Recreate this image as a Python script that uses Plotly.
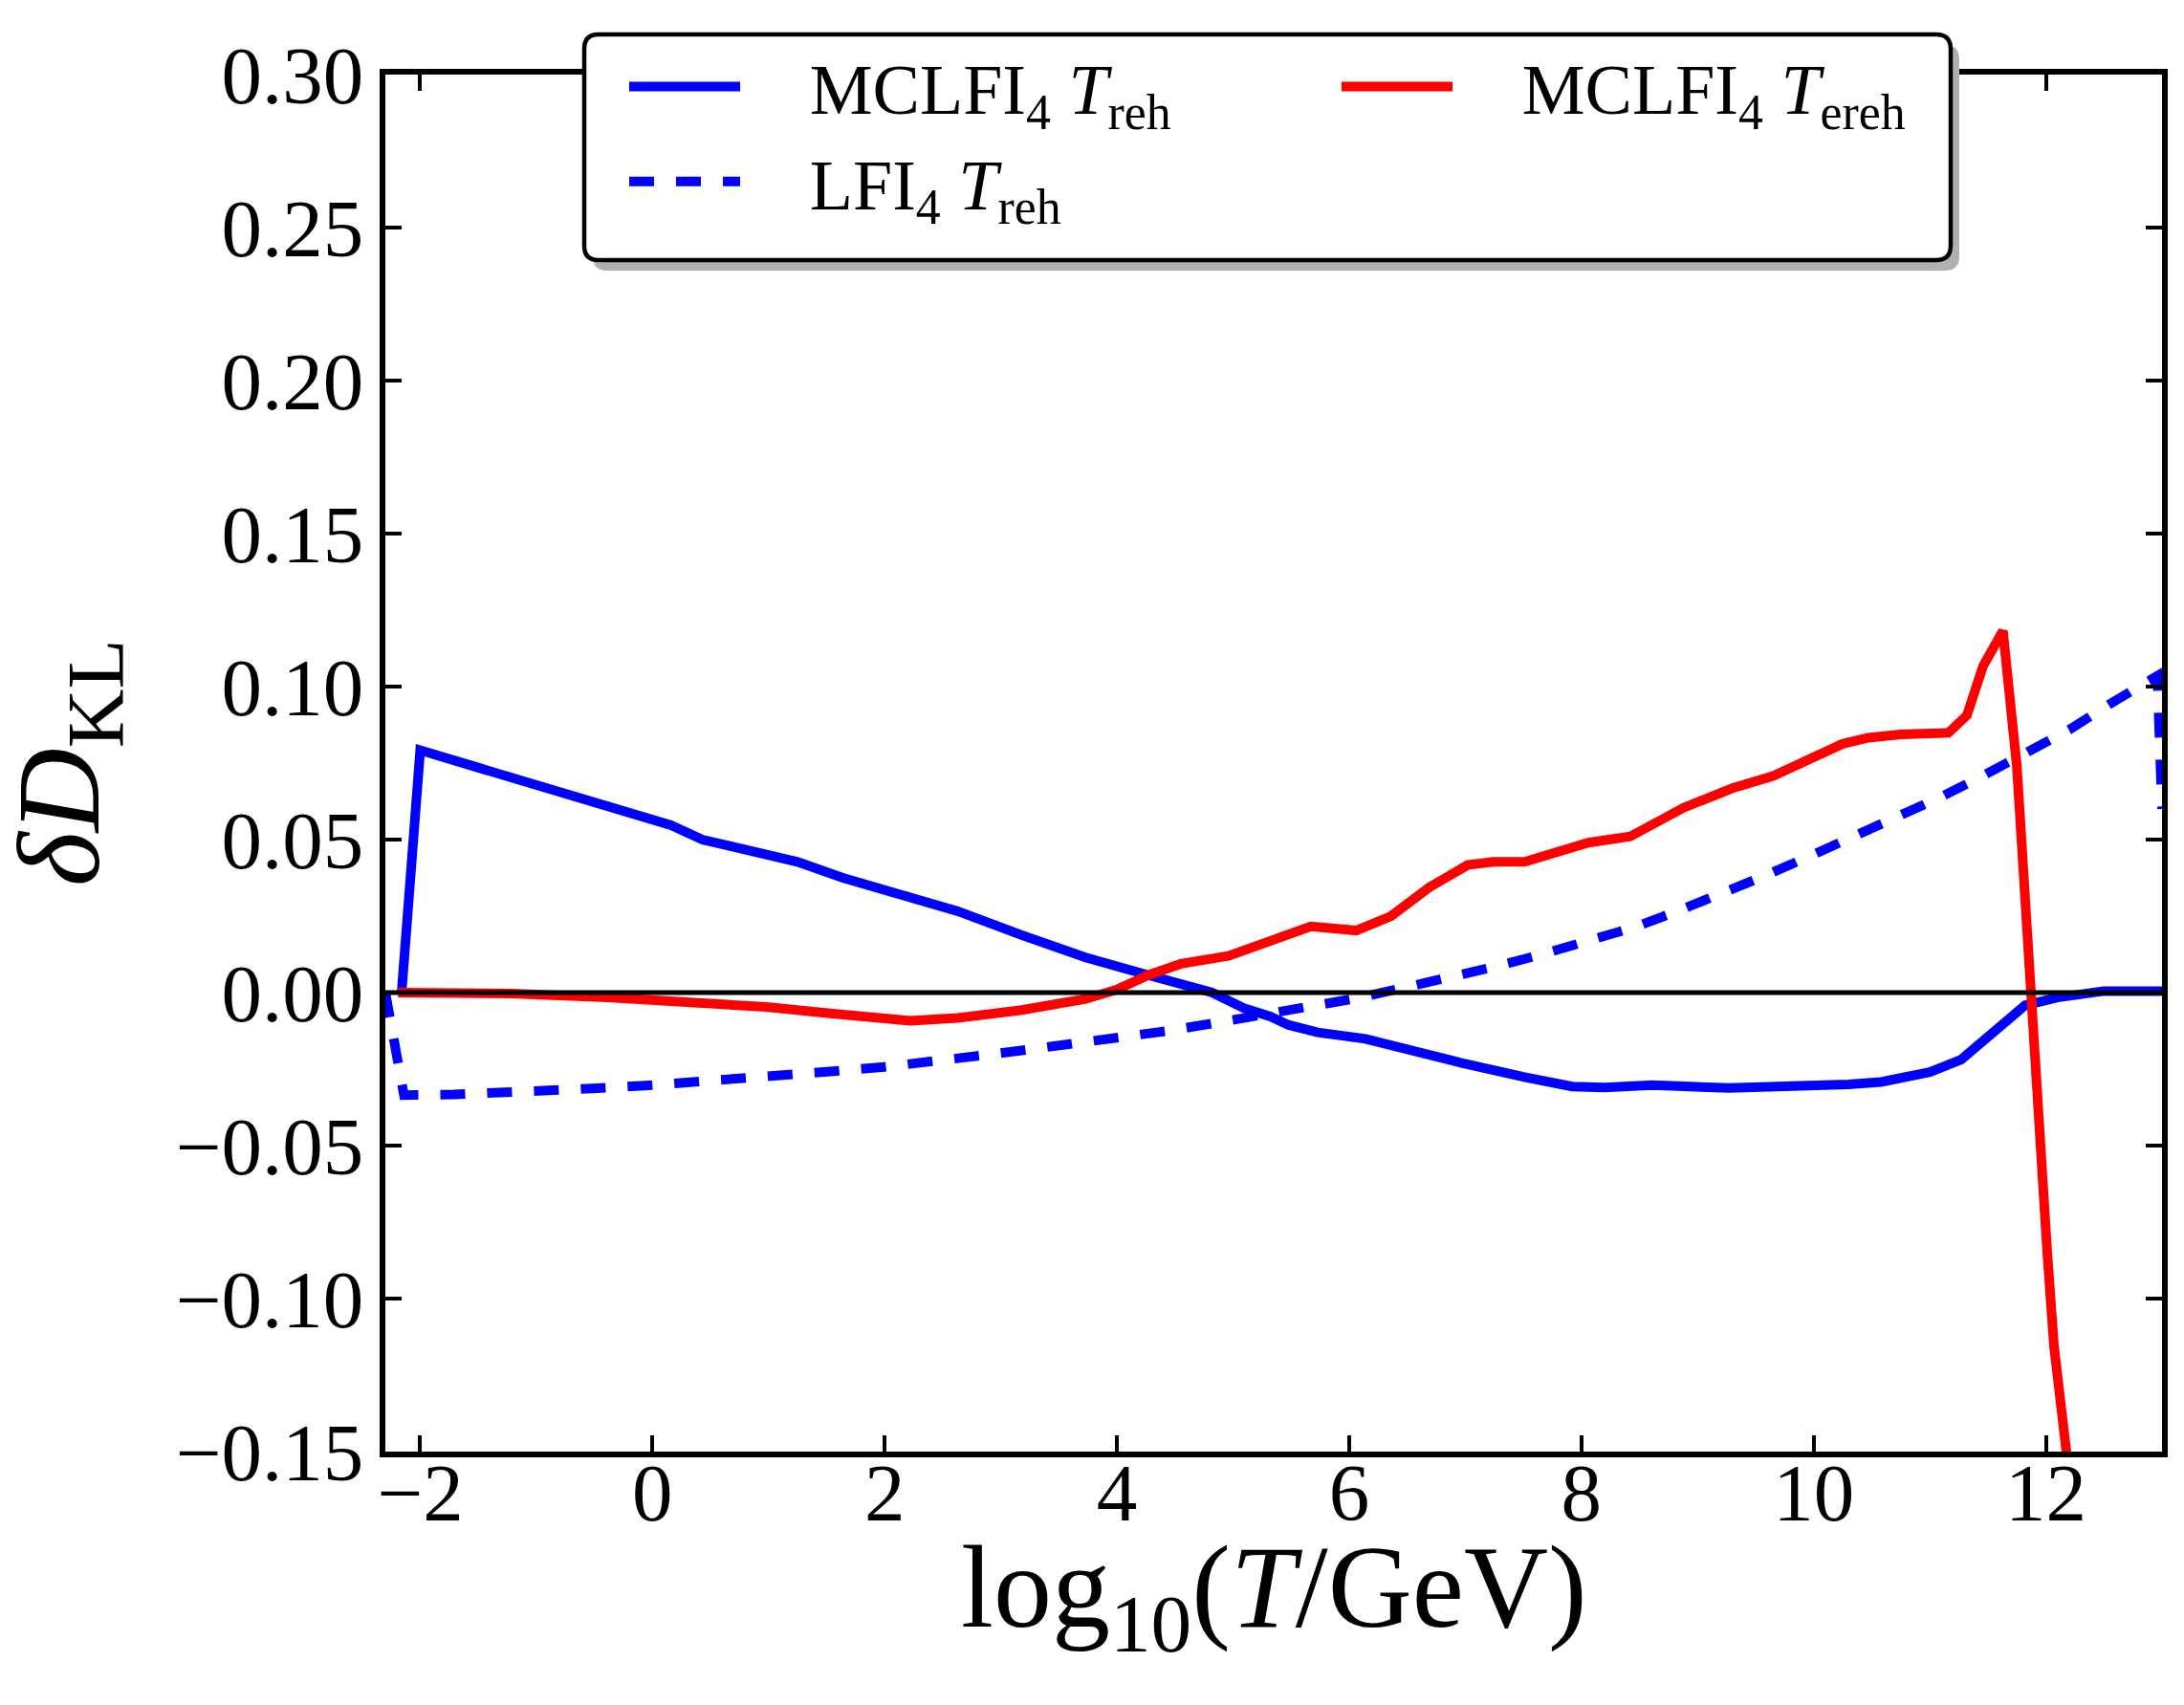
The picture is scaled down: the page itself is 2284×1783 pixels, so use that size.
import plotly.graph_objects as go

# ---------------- data ----------------
blue_x = [-2.16, -2.0, -1.49, -0.94, -0.39, 0.16, 0.43, 0.70, 1.25, 1.64, 2.08, 2.63, 3.18,
          3.73, 4.27, 4.82, 5.10, 5.32, 5.48, 5.73, 6.14, 6.55, 6.96, 7.51, 7.92, 8.20, 8.61,
          9.27, 9.8, 10.3, 10.58, 11.0, 11.27, 11.55, 11.82, 12.1, 12.5, 13.0]
blue_y = [0.0, 0.0792, 0.0734, 0.0672, 0.0604, 0.0547, 0.0500, 0.0474, 0.0427, 0.0375, 0.0328,
          0.0266, 0.0188, 0.0115, 0.0057, 0.0, -0.0052, -0.0078, -0.0106, -0.0130, -0.0151,
          -0.0193, -0.0229, -0.0276, -0.0307, -0.0310, -0.0302, -0.0312, -0.0308, -0.0300,
          -0.0292, -0.0260, -0.0219, -0.0125, -0.0042, -0.0016, 0.0005, 0.0005]

dash_x = [-2.3, -2.14, -1.71, -1.30, -0.886, -0.475, -0.063, 0.348, 0.76, 1.17, 1.556, 1.997,
          2.41, 2.82, 3.22, 3.63, 4.03, 4.44, 4.85, 5.26, 5.66, 6.06, 6.47, 6.87, 7.26, 7.66,
          8.06, 8.46, 8.84, 9.21, 9.60, 9.98, 10.35, 10.72, 11.10, 11.48, 11.85, 12.20, 12.55,
          12.92, 12.96, 13.0]
dash_y = [0.0, -0.0335, -0.0333, -0.0328, -0.0321, -0.03125, -0.0304, -0.0294, -0.0283, -0.0271,
          -0.0257, -0.0243, -0.0227, -0.0206, -0.0187, -0.0167, -0.0146, -0.0125, -0.0099,
          -0.0073, -0.0047, -0.0019, 0.0016, 0.0047, 0.0085, 0.0125, 0.0167, 0.0214, 0.0268,
          0.0323, 0.0385, 0.0448, 0.0510, 0.0573, 0.0640, 0.0713, 0.0786, 0.0859, 0.0943,
          0.1026, 0.1035, 0.0600]

red_x = [-2.19, -1.22, -0.39, 0.43, 0.98, 1.53, 2.22, 2.63, 3.18, 3.73, 4.0, 4.27, 4.55, 4.96,
         5.317, 5.67, 6.06, 6.36, 6.69, 7.02, 7.24, 7.51, 8.06, 8.42, 8.88, 9.30, 9.65, 9.93,
         10.25, 10.47, 10.75, 11.16, 11.32, 11.46, 11.63, 11.75, 11.87, 11.93, 12.01, 12.07,
         12.17, 12.30]
red_y = [0.0, -0.0003, -0.0016, -0.0030, -0.0047, -0.0068, -0.0092, -0.0083, -0.0057, -0.0021,
         0.0010, 0.0057, 0.0094, 0.0120, 0.0172, 0.0216, 0.0203, 0.0250, 0.0344, 0.0417, 0.0427,
         0.0427, 0.0490, 0.0510, 0.0604, 0.0668, 0.0708, 0.0755, 0.0813, 0.0833, 0.0844, 0.0849,
         0.0906, 0.1068, 0.1182, 0.0740, 0.0, -0.0427, -0.0840, -0.1156, -0.1480, -0.1900]

x_ticks = [-2, 0, 2, 4, 6, 8, 10, 12]
y_ticks = [-0.15, -0.10, -0.05, 0.00, 0.05, 0.10, 0.15, 0.20, 0.25, 0.30]

PAD = "\u2002\u2005\u2006"
names = [PAD + "MCLFI<sub>4</sub> <i>T</i><sub>reh</sub>",
         PAD + "MCLFI<sub>4</sub> <i>T</i><sub>ereh</sub>",
         PAD + "LFI<sub>4</sub> <i>T</i><sub>reh</sub>"]

FONT = "Liberation Serif"
W, H = 2284, 1783
L, R, T, B = 395, 31, 70, 273
PW, PH = W - L - R, H - T - B
LW = 10


def px2paper(px, py):
    return (px - L) / PW, (H - B - py) / PH


fig = go.Figure()
fig.add_trace(go.Scatter(x=blue_x, y=blue_y, mode="lines", name=names[0], legendrank=1,
                         line=dict(color="#0000ff", width=LW)))
fig.add_trace(go.Scatter(x=dash_x, y=dash_y, mode="lines", name=names[2], legendrank=3,
                         line=dict(color="#0000ff", width=LW, dash="26px,23px")))
fig.add_trace(go.Scatter(x=red_x, y=red_y, mode="lines", name=names[1], legendrank=2,
                         line=dict(color="#ff0000", width=LW)))

fig.add_hline(y=0, line=dict(color="black", width=5), layer="above")


def rounded_path(x0, y0, x1, y1, r):
    ax0, ay0 = px2paper(x0, y0)
    ax1, ay1 = px2paper(x1, y1)
    rx, ry = r / PW, r / PH
    return (f"M{ax0+rx},{ay0} L{ax1-rx},{ay0} Q{ax1},{ay0} {ax1},{ay0-ry} "
            f"L{ax1},{ay1+ry} Q{ax1},{ay1} {ax1-rx},{ay1} L{ax0+rx},{ay1} "
            f"Q{ax0},{ay1} {ax0},{ay1+ry} L{ax0},{ay0-ry} Q{ax0},{ay0} {ax0+rx},{ay0} Z")


bx0, by0, bx1, by1 = 603, 28, 2032, 264
fig.add_shape(type="path", xref="paper", yref="paper", layer="above",
              path=rounded_path(bx0 + 9, by0 + 11, bx1 + 9, by1 + 11, 15),
              fillcolor="#b0b0b0", line=dict(width=0))
fig.add_shape(type="path", xref="paper", yref="paper", layer="above",
              path=rounded_path(bx0, by0, bx1, by1, 15),
              fillcolor="white", line=dict(color="black", width=4.5))

lx, ly = px2paper(645, 28)
fig.update_layout(
    width=W, height=H,
    margin=dict(l=L, r=R, t=T, b=B, autoexpand=False),
    paper_bgcolor="white", plot_bgcolor="white",
    font=dict(family=FONT, color="black"),
    showlegend=True,
    legend=dict(orientation="h", x=lx, y=ly, xanchor="left", yanchor="top",
                xref="paper", yref="paper",
                entrywidth=614, entrywidthmode="pixels", itemwidth=116,
                bgcolor="rgba(0,0,0,0)", borderwidth=0,
                font=dict(family=FONT, size=74, color="black"),
                traceorder="normal"),
    xaxis=dict(range=[-2.3, 13.0], tickvals=x_ticks, ticks="inside", ticklen=17,
               tickwidth=3.5, tickcolor="black", linewidth=5.5, linecolor="black",
               mirror="ticks", showgrid=False, zeroline=False, ticklabelstandoff=-36,
               tickfont=dict(family=FONT, size=85, color="black")),
    yaxis=dict(range=[-0.15, 0.30], tickvals=y_ticks, tickformat=".2f", ticks="inside",
               ticklen=17, tickwidth=3.5, tickcolor="black", linewidth=5.5,
               linecolor="black", mirror="ticks", showgrid=False, zeroline=False,
               tickfont=dict(family=FONT, size=85, color="black")),
)

ytx, _ = px2paper(62, 0)
_, xty = px2paper(0, 1660)
fig.add_annotation(text="<i>δD</i><sub>KL</sub>", xref="paper", yref="paper",
                   x=ytx, y=0.5, textangle=-90, showarrow=False,
                   xanchor="center", yanchor="middle",
                   font=dict(family=FONT, size=122, color="black"))
fig.add_annotation(text="log<sub>10</sub>(<i>T</i>/GeV)", xref="paper", yref="paper",
                   x=0.5, y=xty, showarrow=False, xanchor="center", yanchor="middle",
                   font=dict(family=FONT, size=122, color="black"))

fig.write_html("out.html")
